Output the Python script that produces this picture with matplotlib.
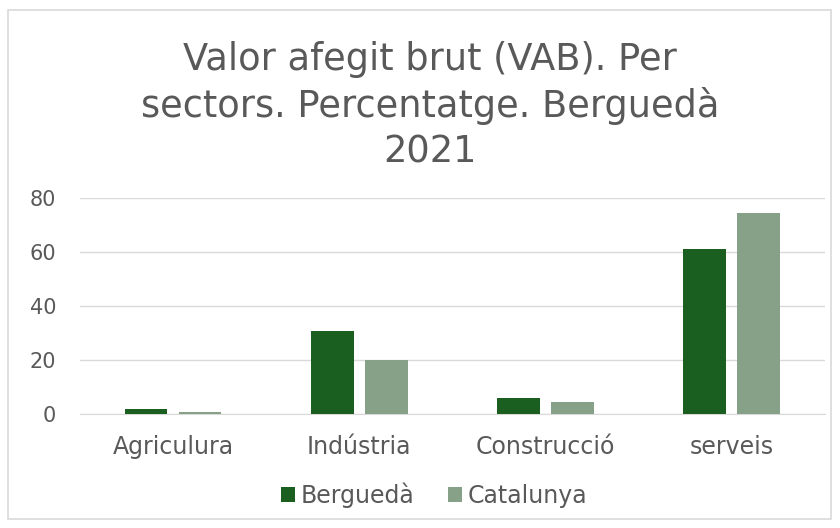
import numpy as np
import matplotlib.pyplot as plt
from matplotlib.patches import Rectangle

sectors = ['Agriculura', 'Indústria', 'Construcció', 'serveis']
bergueda = [2.1, 30.7, 6.0, 61.2]
catalunya = [0.9, 20.2, 4.6, 74.4]
y_ticks = [0, 20, 40, 60, 80]

dark_green = '#1a5e20'
light_green = '#87a088'
text_gray = '#595959'

plt.rcParams['font.family'] = ['DejaVu Sans']

fig = plt.figure(figsize=(8.4, 5.28), dpi=100)
ax = fig.add_axes([0.095, 0.215, 0.887, 0.41])

# marc exterior del gràfic
fig.patches.append(Rectangle((0.009, 0.017), 0.98, 0.965, transform=fig.transFigure,
                             fill=False, edgecolor='#d9d9d9', linewidth=1.2))

x = np.arange(len(sectors))
w = 0.23
ax.bar(x - 0.145, bergueda, w, color=dark_green, label='Berguedà', zorder=3)
ax.bar(x + 0.145, catalunya, w, color=light_green, label='Catalunya', zorder=3)

ax.set_xlim(-0.5, 3.5)
ax.set_ylim(0, 80)
ax.set_yticks(y_ticks)
ax.set_xticks(x)
ax.set_xticklabels(sectors)
ax.tick_params(axis='both', length=0, colors=text_gray)
ax.tick_params(axis='x', pad=15, labelsize=17)
ax.tick_params(axis='y', pad=17, labelsize=15)
ax.grid(axis='y', color='#d9d9d9', linewidth=1, zorder=0)
for s in ['top', 'right', 'left']:
    ax.spines[s].set_visible(False)
ax.spines['bottom'].set_color('#d9d9d9')

fig.text(0.512, 0.80, 'Valor afegit brut (VAB). Per\nsectors. Percentatge. Berguedà\n2021',
         ha='center', va='center', fontsize=26.5, color=text_gray, linespacing=1.3)

fig.legend(loc='center', bbox_to_anchor=(0.517, 0.062), ncol=2, frameon=False,
           fontsize=17, labelcolor=text_gray, handlelength=0.6, handleheight=0.6,
           handletextpad=0.25, columnspacing=1.4)

fig.savefig('out.png', dpi=100)
